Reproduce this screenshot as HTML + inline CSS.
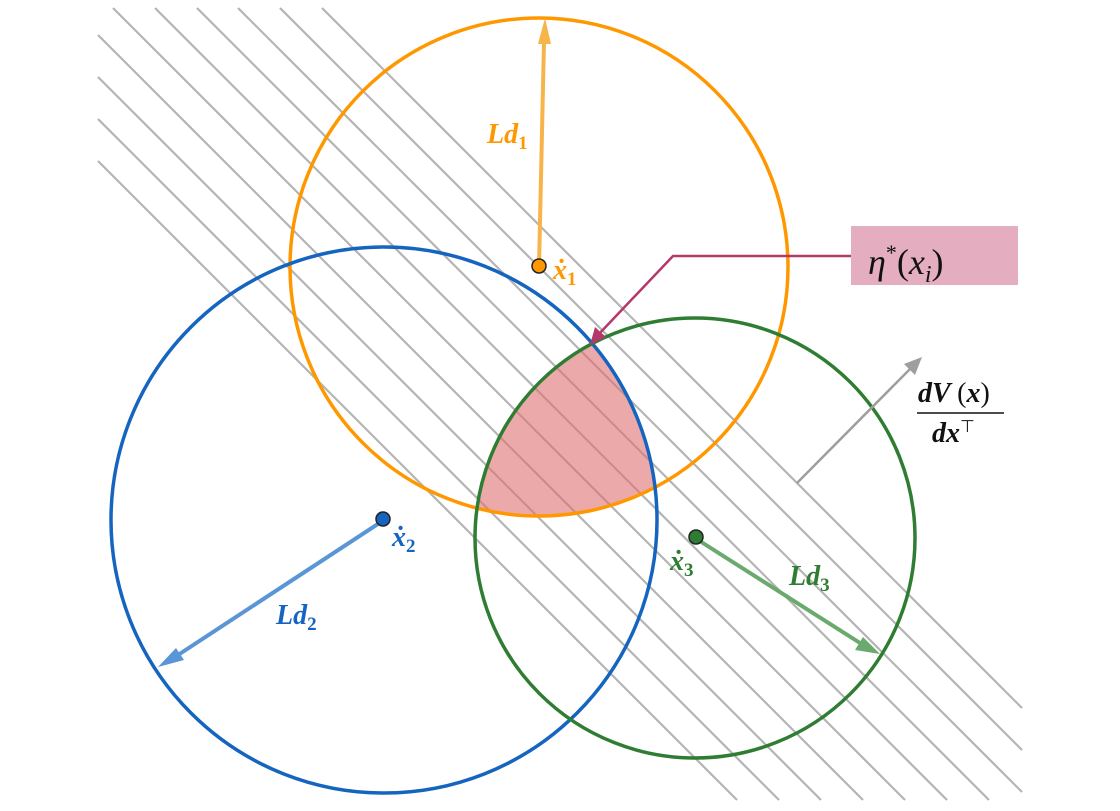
<!DOCTYPE html>
<html><head><meta charset="utf-8"><style>
html,body{margin:0;padding:0;background:#fff;width:1120px;height:811px;overflow:hidden;}
svg{display:block;}
.m{font-family:"Liberation Serif",serif;font-style:italic;font-weight:bold;}
</style></head><body>
<svg width="1120" height="811" viewBox="0 0 1120 811" xmlns="http://www.w3.org/2000/svg">
<defs>
<clipPath id="cb"><circle cx="384" cy="520" r="273"/></clipPath>
<clipPath id="cg"><circle cx="695" cy="538" r="220"/></clipPath>
</defs>
<g stroke="#b4b4b4" stroke-width="2.2">
<line x1="322" y1="8" x2="1022" y2="708"/>
<line x1="280" y1="8" x2="1022" y2="750"/>
<line x1="238" y1="8" x2="1022" y2="792"/>
<line x1="197" y1="8" x2="989" y2="800"/>
<line x1="155" y1="8" x2="947" y2="800"/>
<line x1="113" y1="8" x2="905" y2="800"/>
<line x1="98" y1="35" x2="863" y2="800"/>
<line x1="98" y1="77" x2="821" y2="800"/>
<line x1="98" y1="119" x2="779" y2="800"/>
<line x1="98" y1="161" x2="737" y2="800"/>
</g>
<g clip-path="url(#cb)"><g clip-path="url(#cg)"><circle cx="539" cy="267" r="249" fill="#e07070" fill-opacity="0.6"/></g></g>
<circle cx="539" cy="267" r="249" fill="none" stroke="#ff9800" stroke-width="3.5"/>
<circle cx="384" cy="520" r="273" fill="none" stroke="#1565c0" stroke-width="3.5"/>
<circle cx="695" cy="538" r="220" fill="none" stroke="#2e7d32" stroke-width="3.5"/>
<line x1="539" y1="267" x2="544" y2="42" stroke="#f7b44a" stroke-width="4"/>
<polygon points="545,18 538,44 551,44" fill="#f7b44a"/>
<line x1="384" y1="520" x2="178" y2="655" stroke="#5a95d6" stroke-width="4"/>
<polygon points="158,667 176,648 184,660" fill="#5a95d6"/>
<line x1="695" y1="538" x2="860" y2="643" stroke="#6aaa6e" stroke-width="4"/>
<polygon points="880,654 855,650 863,637" fill="#6aaa6e"/>
<line x1="797" y1="483" x2="912" y2="367" stroke="#9e9e9e" stroke-width="2.5"/>
<polygon points="922,357 915,375 904,364" fill="#9e9e9e"/>
<polyline points="851,256 673,256 598,335" fill="none" stroke="#b5386a" stroke-width="2.5"/>
<polygon points="590,345 595,327 606,337" fill="#b5386a"/>
<rect x="851" y="226" width="167" height="59" fill="#e4aec0"/>
<text x="868" y="274" font-family="Liberation Serif,serif" font-style="italic" font-size="36" fill="#111">η<tspan font-size="22" dy="-14" font-style="normal">*</tspan><tspan dy="14" font-style="normal">(</tspan>x<tspan font-size="24" dy="8">i</tspan><tspan dy="-8" font-style="normal">)</tspan></text>
<circle cx="539" cy="266" r="7" fill="#ff9800" stroke="#222" stroke-width="1.5"/>
<circle cx="383" cy="519" r="7" fill="#1565c0" stroke="#222" stroke-width="1.5"/>
<circle cx="696" cy="537" r="7" fill="#2e7d32" stroke="#222" stroke-width="1.5"/>
<text class="m" x="487" y="143" font-size="28" fill="#ff9800">Ld<tspan font-size="19" dy="6" font-style="normal">1</tspan></text>
<text class="m" x="553" y="279" font-size="28" fill="#ff9800">ẋ<tspan font-size="19" dy="6" font-style="normal">1</tspan></text>
<text class="m" x="392" y="546" font-size="28" fill="#1565c0">ẋ<tspan font-size="19" dy="6" font-style="normal">2</tspan></text>
<text class="m" x="276" y="624" font-size="28" fill="#1565c0">Ld<tspan font-size="19" dy="6" font-style="normal">2</tspan></text>
<text class="m" x="670" y="570" font-size="28" fill="#2e7d32">ẋ<tspan font-size="19" dy="6" font-style="normal">3</tspan></text>
<text class="m" x="789" y="585" font-size="28" fill="#2e7d32">Ld<tspan font-size="19" dy="6" font-style="normal">3</tspan></text>
<text class="m" x="918" y="402" font-size="28" fill="#111">dV <tspan font-style="normal" font-weight="normal">(</tspan>x<tspan font-style="normal" font-weight="normal">)</tspan></text>
<line x1="917" y1="413" x2="1004" y2="413" stroke="#111" stroke-width="1.5"/>
<text class="m" x="932" y="442" font-size="28" fill="#111">dx<tspan font-size="17" dy="-10" font-style="normal" font-weight="normal">⊤</tspan></text>
</svg>
</body></html>
